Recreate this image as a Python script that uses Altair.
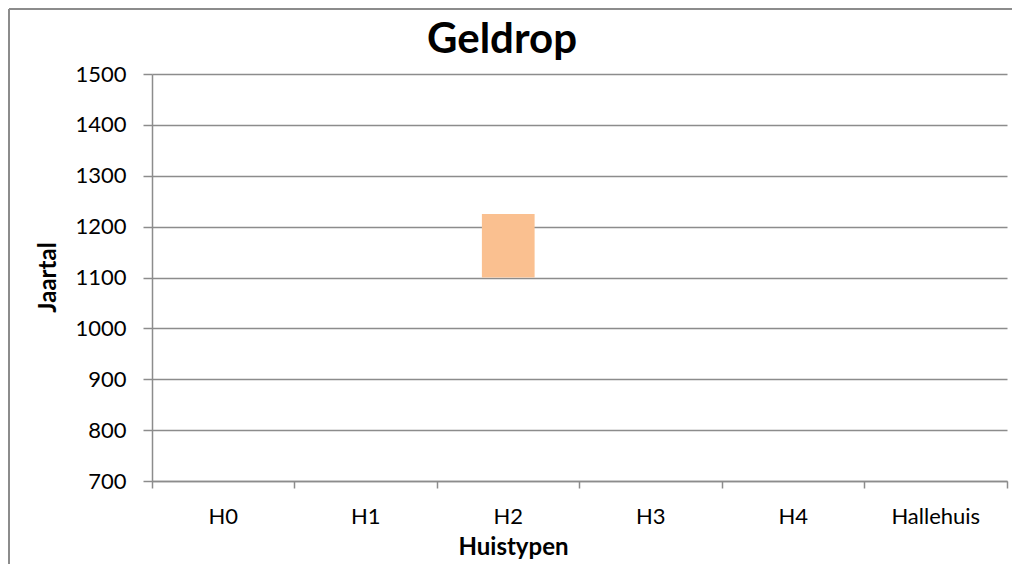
import altair as alt
import pandas as pd

# Data
categories = ["H0", "H1", "H2", "H3", "H4", "Hallehuis"]
start_year = [None, None, 1100, None, None, None]
end_year = [None, None, 1225, None, None, None]
y_ticks = [700, 800, 900, 1000, 1100, 1200, 1300, 1400, 1500]
chart_title = "Geldrop"

df = pd.DataFrame({"category": categories, "start": start_year, "end": end_year})

FONT = "Lato"
GRID = "#8c8c8c"

bars = (
    alt.Chart(df)
    .transform_filter("isValid(datum.start)")
    .mark_bar(color="#FAC090", width=alt.RelativeBandSize(0.37))
    .encode(
        x=alt.X(
            "category:N",
            scale=alt.Scale(domain=categories, paddingInner=0, paddingOuter=0),
            sort=categories,
            axis=alt.Axis(
                title="Huistypen",
                labelAngle=0,
                bandPosition=1,
                tickExtra=True,
                tickSize=7,
                tickColor=GRID,
                domainColor=GRID,
                tickWidth=1.5,
                domainWidth=1.5,
                labelFont=FONT,
                labelFontSize=22,
                labelColor="black",
                labelBaseline="alphabetic",
                labelPadding=35,
                titleFont=FONT,
                titleFontSize=24,
                titleFontWeight="bold",
                titleColor="black",
                titleX=361,
                titleY=73,
                titleBaseline="alphabetic",
                titleAlign="center",
                grid=False,
            ),
        ),
        y=alt.Y(
            "start:Q",
            scale=alt.Scale(domain=[y_ticks[0], y_ticks[-1]], nice=False, zero=False),
            axis=alt.Axis(
                values=y_ticks,
                format="d",
                title="Jaartal",
                tickSize=9,
                tickColor=GRID,
                domainColor=GRID,
                gridColor=GRID,
                tickWidth=1.5,
                domainWidth=1.5,
                gridWidth=1.5,
                labelFont=FONT,
                labelFontSize=22,
                labelColor="black",
                labelPadding=17,
                titleFont=FONT,
                titleFontSize=24,
                titleFontWeight="bold",
                titleColor="black",
                titleX=-104,
                titleY=203,
                titleAngle=270,
                titleBaseline="middle",
                titleAlign="center",
            ),
        ),
        y2="end:Q",
    )
)

one = pd.DataFrame({"k": [0]})

frame_top = (
    alt.Chart(one)
    .mark_rule(color=GRID, strokeWidth=2)
    .encode(x=alt.value(-143), x2=alt.value(860), y=alt.value(-65))
)
frame_left = (
    alt.Chart(one)
    .mark_rule(color=GRID, strokeWidth=2)
    .encode(x=alt.value(-143), y=alt.value(-65), y2=alt.value(490))
)

title_text = (
    alt.Chart(one)
    .mark_text(
        text=chart_title,
        font=FONT,
        fontSize=42,
        fontWeight="bold",
        color="black",
        align="center",
        baseline="alphabetic",
    )
    .encode(x=alt.value(350), y=alt.value(-21))
)

chart = (
    alt.layer(frame_top, frame_left, bars, title_text)
    .properties(
        width=855,
        height=407,
        autosize=alt.AutoSizeParams(type="none"),
        padding={"left": 144, "top": 66, "right": 5, "bottom": 83},
    )
    .configure_view(strokeWidth=0)
)

chart.save("out.html", embed_options={"renderer": "svg", "actions": False})
